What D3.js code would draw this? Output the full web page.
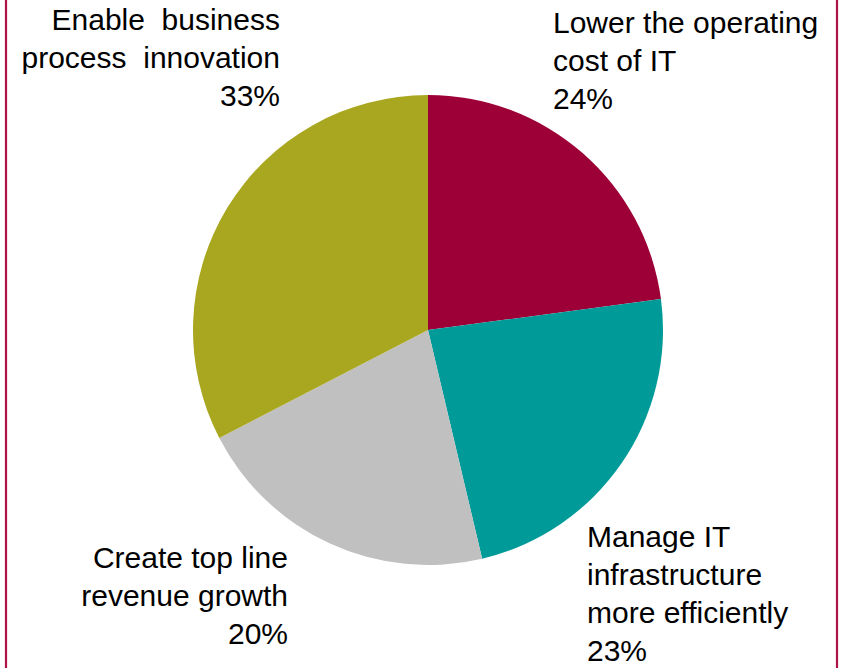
<!DOCTYPE html>
<html><head><meta charset="utf-8">
<script src="https://cdn.jsdelivr.net/npm/d3@7"></script>
<style>
html,body{margin:0;padding:0;background:#fff;}
svg text{font-family:"Liberation Sans",Arial,sans-serif;white-space:pre;fill:#000;}
</style></head>
<body>
<svg id="chart" width="844" height="668"></svg>
<script>
const categories = ["Lower the operating cost of IT", "Manage IT infrastructure more efficiently", "Create top line revenue growth", "Enable business process innovation"];
const values = [22.9, 23.4, 21.1, 32.6];
const percentLabels = ["24%", "23%", "20%", "33%"];
const labelLines = [
  ["Lower the operating", "cost of IT"],
  ["Manage IT", "infrastructure", "more efficiently"],
  ["Create top line", "revenue growth"],
  ["Enable  business", "process  innovation"]
];
const colors = ["#9C0036", "#009A99", "#C0C0C0", "#A9A61F"];

const svg = d3.select("#chart");
const cx = 428, cy = 330, r = 235;

svg.append("rect").attr("x", 6).attr("y", -10).attr("width", 831).attr("height", 690)
  .attr("fill", "none").attr("stroke", "#B0124A").attr("stroke-width", 2.2);

const pie = d3.pie().sort(null).value(d => d)(values);
const arc = d3.arc().innerRadius(0).outerRadius(r);
const g = svg.append("g").attr("transform", `translate(${cx},${cy})`);
g.selectAll("path").data(pie).join("path")
  .attr("d", arc).attr("fill", (d, i) => colors[i]);

const layout = [
  {x: 553, y: 33, anchor: "start"},
  {x: 587, y: 547, anchor: "start"},
  {x: 288, y: 568, anchor: "end"},
  {x: 280, y: 30, anchor: "end"}
];
const lh = 38;
labelLines.forEach((lines, i) => {
  const L = layout[i];
  const t = svg.append("text").attr("text-anchor", L.anchor).attr("font-size", 30);
  lines.concat([percentLabels[i]]).forEach((s, j) => {
    t.append("tspan").attr("x", L.x).attr("y", L.y + j * lh).text(s);
  });
});
</script>
</body></html>
